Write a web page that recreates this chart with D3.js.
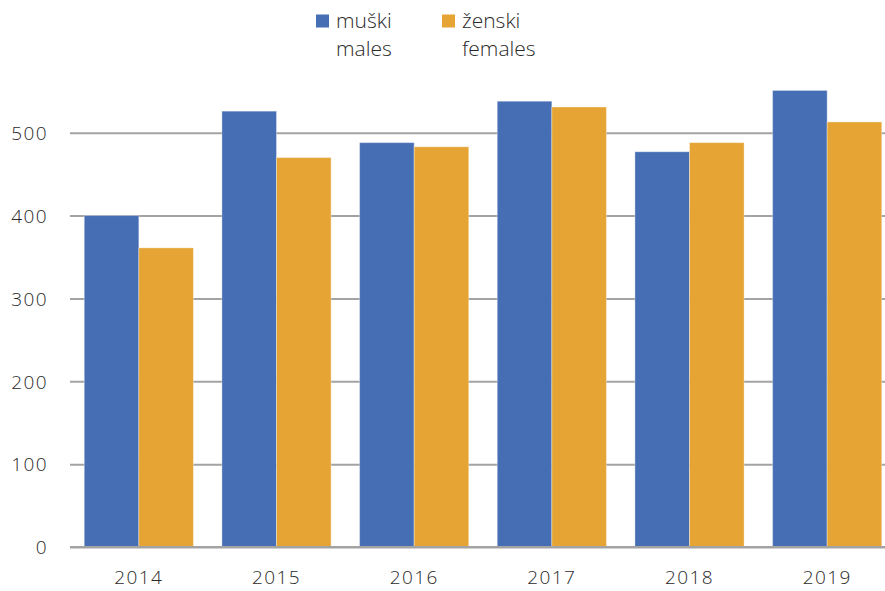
<!DOCTYPE html>
<html><head><meta charset="utf-8">
<script src="https://cdn.jsdelivr.net/npm/d3@7"></script>
<style>
html,body{margin:0;padding:0;background:#fff;}
svg text{font-family:"Open Sans",sans-serif;font-weight:300;fill:#2a2a2a;}
</style></head>
<body><svg id="c" width="885" height="591"></svg>
<script>
const years = ["2014","2015","2016","2017","2018","2019"];
const males = [400, 526, 488, 538, 477, 551];
const females = [361, 470, 483, 531, 488, 513];
const seriesNames = [["muški","males"],["ženski","females"]];
const yTicks = [0,100,200,300,400,500];
const colors = ["#466EB4","#E5A433"];

const svg = d3.select("#c");
const mLeft = 70, mRight = 896, mBottom = 547;
const x = d3.scaleBand().domain(years).range([mLeft, mRight]).paddingInner(0.207).paddingOuter(0.1035);
const y = d3.scaleLinear().domain([0, 500]).range([mBottom, 132.7]);
const xs = d3.scaleBand().domain([0,1]).range([0, x.bandwidth()]);

// gridlines
const yAxis = d3.axisLeft(y).tickValues(yTicks).tickSize(-(885-mLeft)).tickPadding(22);
const gy = svg.append("g").attr("transform",`translate(${mLeft},0)`).call(yAxis);
gy.select(".domain").remove();
gy.selectAll(".tick line").attr("stroke","#A3A3A3").attr("stroke-width",2);
gy.selectAll(".tick text").attr("font-size","19px").attr("letter-spacing","1.4px").attr("fill","#2a2a2a").attr("dy","0.36em");

const data = [males, females];
data.forEach((arr, si) => {
  svg.append("g").selectAll("rect").data(arr).join("rect")
    .attr("x", (d,i) => x(years[i]) + xs(si))
    .attr("y", d => y(d))
    .attr("width", xs.bandwidth())
    .attr("height", d => y(0) - y(d))
    .attr("fill", colors[si])
    .attr("stroke", "rgba(255,255,255,0.35)")
    .attr("stroke-width", 1);
});

// baseline
svg.append("line").attr("x1",mLeft).attr("x2",885).attr("y1",y(0)).attr("y2",y(0))
  .attr("stroke","#A3A3A3").attr("stroke-width",2);

// x axis labels
const xAxis = d3.axisBottom(x).tickSize(0).tickPadding(0);
const gx = svg.append("g").attr("transform",`translate(0,${y(0)})`).call(xAxis);
gx.select(".domain").remove();
gx.selectAll(".tick text").attr("font-size","19px").attr("letter-spacing","1.4px").attr("fill","#2a2a2a").attr("y",37).attr("dy",0);

// legend
const legX = [316, 442];
seriesNames.forEach((nm, i) => {
  const g = svg.append("g").attr("transform",`translate(${legX[i]},0)`);
  g.append("rect").attr("x",0).attr("y",14.5).attr("width",13).attr("height",13).attr("fill",colors[i]);
  g.append("text").attr("x",20).attr("y",28.3).attr("font-size","21px").text(nm[0]);
  g.append("text").attr("x",20).attr("y",55.5).attr("font-size","21px").text(nm[1]);
});
</script></body></html>
